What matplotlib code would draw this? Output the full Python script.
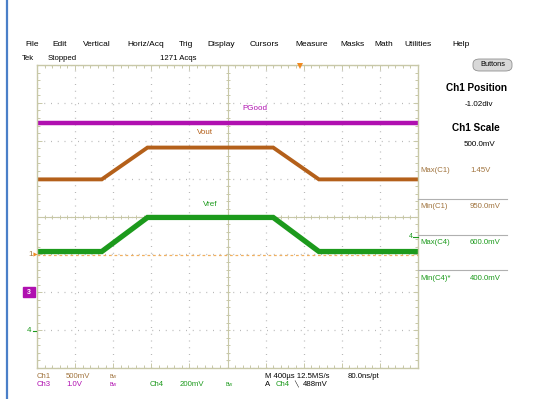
import numpy as np
import matplotlib
matplotlib.use("Agg")
import matplotlib.pyplot as plt
from matplotlib.patches import FancyBboxPatch, Rectangle

plt.rcParams['font.family'] = ['Liberation Sans', 'DejaVu Sans']

# time breakpoints of the traces (us), 400 us/div, 10 div
t_us = [0, 680, 1160, 2480, 2960, 4000]
vout_v = [1.00, 1.00, 1.42, 1.42, 1.00, 1.00]      # Ch1
vref_v = [0.415, 0.415, 0.595, 0.595, 0.415, 0.415]  # Ch4
pgood_t_us = [0, 4000]
pgood_v = [4.47, 4.47]                              # Ch3

# channel settings: (volts/div, ground position in div)
ch1 = (0.5, -1.02)
ch3 = (1.0, -2.0)
ch4 = (0.2, -3.0)
time_div_us = 400

menu = ["File", "Edit", "Vertical", "Horiz/Acq", "Trig", "Display", "Cursors",
        "Measure", "Masks", "Math", "Utilities", "Help"]
menu_x = [25, 52, 83, 127, 179, 207, 250, 295, 340, 374, 404, 452]

meas_names = ["Max(C1)", "Min(C1)", "Max(C4)", "Min(C4)*"]
meas_vals = ["1.45V", "950.0mV", "600.0mV", "400.0mV"]

BROWN = "#b4601a"
BROWN_T = "#a0733d"
MAG = "#b010b0"
GREEN = "#1c9a1c"
GRAT = "#c8c8a8"

W, H = 554, 399
fig = plt.figure(figsize=(W / 100, H / 100), dpi=100)
fig.patch.set_facecolor("white")


def fx(x):
    return x / W


def fy(y):
    return 1 - y / H


def ftext(x, y, s, **kw):
    kw.setdefault("fontsize", 5.6)
    kw.setdefault("va", "center")
    fig.text(fx(x), fy(y), s, **kw)


# left blue frame line
fig.add_artist(plt.Line2D([fx(7), fx(7)], [0, 1], color="#4a7fc8", lw=1.6))

# graticule
gl, gr, gt, gb = 37, 418, 65, 368
ax = fig.add_axes([fx(gl), fy(gb), (gr - gl) / W, (gb - gt) / H])
ax.set_xlim(0, 10)
ax.set_ylim(-4, 4)
for s in ax.spines.values():
    s.set_color(GRAT)
    s.set_linewidth(1.0)
ax.set_xticks(np.arange(0, 11, 1))
ax.set_yticks(np.arange(-4, 5, 1))
ax.set_xticks(np.arange(0, 10.01, 0.2), minor=True)
ax.set_yticks(np.arange(-4, 4.01, 0.2), minor=True)
ax.tick_params(which="both", direction="in", top=True, right=True,
               labelbottom=False, labelleft=False, color=GRAT, width=0.7)
ax.tick_params(which="major", length=3.5)
ax.tick_params(which="minor", length=2.2)
ax.grid(True, which="major", color="#b8b8b8", lw=0.9, linestyle=(0, (0.8, 4.6)))
ax.axhline(0, color=GRAT, lw=0.8)
ax.axvline(5, color=GRAT, lw=0.8)
cx = np.arange(0, 10.01, 0.2)
cy = np.arange(-4, 4.01, 0.2)
ax.plot(cx, np.zeros_like(cx), "|", color=GRAT, ms=3.5, mew=0.7)
ax.plot(np.full_like(cy, 5), cy, "_", color=GRAT, ms=3.5, mew=0.7)

# ch1 ground reference dashed line
ax.axhline(ch1[1], color="#f0b060", lw=0.9, linestyle=(0, (2.2, 2.2)))

# traces
x = np.array(t_us) / time_div_us
ax.plot(np.array(pgood_t_us) / time_div_us, np.array(pgood_v) / ch3[0] + ch3[1],
        color=MAG, lw=3.2, solid_capstyle="butt")
ax.plot(x, np.array(vout_v) / ch1[0] + ch1[1], color=BROWN, lw=2.8,
        solid_joinstyle="miter")
ax.plot(x, np.array(vref_v) / ch4[0] + ch4[1], color=GREEN, lw=3.8,
        solid_joinstyle="miter")

# trace labels
ftext(242, 109, "PGood", color=MAG, fontsize=5.8)
ftext(197, 133, "Vout", color=BROWN, fontsize=5.8)
ftext(203, 205, "Vref", color=GREEN, fontsize=5.8)

# trigger position marker
fig.add_artist(plt.Line2D([fx(300)], [fy(66)], marker="v", color="#f08a20",
                          ms=5, mew=0))

# ground markers on left edge
ftext(28, 254, "1", color=BROWN_T, fontsize=5.8)
fig.add_artist(plt.Line2D([fx(35)], [fy(254)], marker=">", color="#f08a20", ms=3, mew=0))
fig.add_artist(Rectangle((fx(23), fy(297)), fx(12), 10 / H, color=MAG))
ftext(29, 292, "3", color="white", fontsize=5, ha="center", weight="bold")
ftext(27, 331, "4", color=GREEN, fontsize=5.8)
fig.add_artist(plt.Line2D([fx(33), fx(36)], [fy(331), fy(331)], color=GREEN, lw=0.8))
# trigger level marker on right edge
ftext(409, 237, "4", color=GREEN, fontsize=5)
fig.add_artist(plt.Line2D([fx(413), fx(418)], [fy(237), fy(237)], color=GREEN, lw=0.8))

# menu bar
for name, mx in zip(menu, menu_x):
    ftext(mx, 45, name, fontsize=6.0)
ftext(22, 59, "Tek")
ftext(48, 59, "Stopped")
ftext(160, 58, "1271 Acqs")

# buttons
fig.add_artist(FancyBboxPatch((fx(473), fy(71)), fx(39), 12 / H,
                              boxstyle="round,pad=0,rounding_size=0.012",
                              fc="#d8d8d8", ec="#909090", lw=0.6))
ftext(492.5, 65, "Buttons", fontsize=5.3, ha="center")

# side panel
ftext(476, 88, "Ch1 Position", fontsize=7.2, weight="bold", ha="center")
ftext(479, 104, "-1.02div", fontsize=5.8, ha="center")
ftext(476, 128, "Ch1 Scale", fontsize=7.2, weight="bold", ha="center")
ftext(479, 144, "500.0mV", fontsize=5.8, ha="center")

meas_y = [170, 207, 242, 278]
meas_col = [BROWN_T, BROWN_T, GREEN, GREEN]
for name, val, my, c in zip(meas_names, meas_vals, meas_y, meas_col):
    ftext(420, my, name, color=c)
    ftext(470, my, val, color=c)
for sy in [199, 235, 270]:
    fig.add_artist(plt.Line2D([fx(418), fx(507)], [fy(sy), fy(sy)],
                              color="#b0b0b0", lw=0.8))

# bottom status
ftext(37, 376, "Ch1", color=BROWN_T)
ftext(66, 376, "500mV", color=BROWN_T)
ftext(110, 376, "Bw", color=BROWN_T, fontsize=3.8)
ftext(37, 385, "Ch3", color=MAG)
ftext(66, 385, "1.0V", color=MAG)
ftext(110, 385, "Bw", color=MAG, fontsize=3.8)
ftext(150, 385, "Ch4", color=GREEN)
ftext(180, 385, "200mV", color=GREEN)
ftext(226, 385, "Bw", color=GREEN, fontsize=3.8)
ftext(265, 376, "M 400\u00b5s 12.5MS/s")
ftext(348, 376, "80.0ns/pt")
ftext(265, 385, "A")
ftext(276, 385, "Ch4", color=GREEN)
ftext(294, 385, "\u2572", fontsize=4.5)
ftext(303, 385, "488mV")

fig.savefig("out.png", dpi=100, facecolor="white")
